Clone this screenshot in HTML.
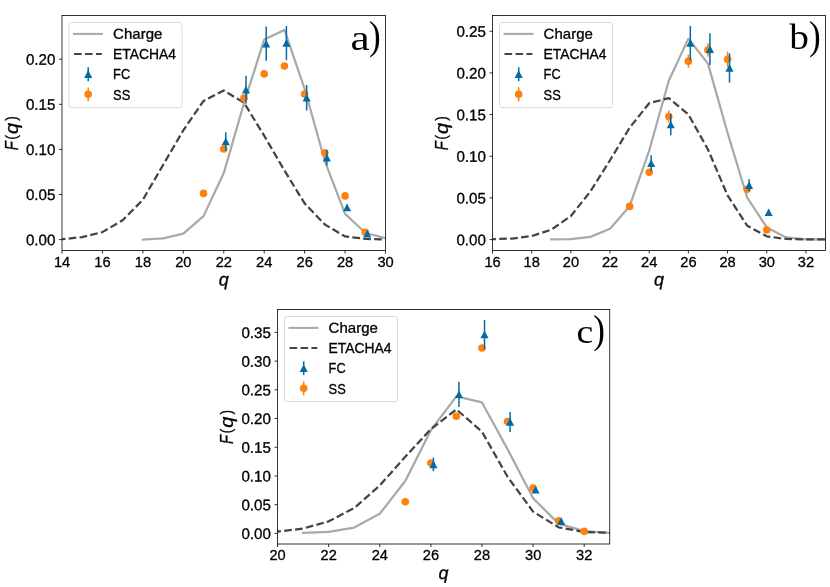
<!DOCTYPE html>
<html lang="en"><head><meta charset="utf-8"><title>Charge state distributions</title>
<style>
html,body{margin:0;padding:0;background:#fff;}
body{width:830px;height:587px;overflow:hidden;font-family:"Liberation Sans",sans-serif;}
svg{display:block;will-change:transform;}
svg .t{stroke:#000;stroke-width:0.3px;}
</style></head><body>
<svg width="830" height="587" viewBox="0 0 830 587" font-family="'Liberation Sans', sans-serif">
<rect x="0" y="0" width="830" height="587" fill="#fff"/>
<g id="panel-a">
<clipPath id="clipa"><rect x="62.0" y="15.5" width="323.50" height="235.00"/></clipPath>
<g clip-path="url(#clipa)">
<polyline points="142.88,239.50 163.09,238.33 183.31,233.54 203.53,216.13 223.75,173.08 243.97,103.22 264.19,39.60 284.41,29.94 304.62,88.78 324.84,161.07 345.06,213.87 365.28,232.73 385.50,238.24" fill="none" stroke="#A9A9A9" stroke-width="2.25" stroke-linejoin="round" stroke-linecap="square"/>
<polyline points="62.00,239.23 82.22,237.06 102.44,232.10 122.66,220.19 142.88,199.79 163.09,164.95 183.31,130.30 203.53,100.97 223.75,90.50 243.97,102.68 264.19,135.71 284.41,170.46 304.62,203.40 324.84,224.52 345.06,236.43 365.28,238.87 385.50,239.50" fill="none" stroke="#444444" stroke-width="2.25" stroke-dasharray="7.64 3.3" stroke-dashoffset="4.2" stroke-linejoin="round"/>
<line x1="203.53" x2="203.53" y1="191.58" y2="195.19" stroke="#FF800E" stroke-width="1.5"/>
<line x1="223.75" x2="223.75" y1="146.27" y2="151.69" stroke="#FF800E" stroke-width="1.5"/>
<line x1="243.97" x2="243.97" y1="95.46" y2="100.88" stroke="#FF800E" stroke-width="1.5"/>
<line x1="264.19" x2="264.19" y1="71.18" y2="76.60" stroke="#FF800E" stroke-width="1.5"/>
<line x1="284.41" x2="284.41" y1="63.33" y2="68.75" stroke="#FF800E" stroke-width="1.5"/>
<line x1="304.62" x2="304.62" y1="91.40" y2="96.81" stroke="#FF800E" stroke-width="1.5"/>
<line x1="324.84" x2="324.84" y1="149.97" y2="155.39" stroke="#FF800E" stroke-width="1.5"/>
<line x1="345.06" x2="345.06" y1="194.10" y2="197.71" stroke="#FF800E" stroke-width="1.5"/>
<line x1="365.28" x2="365.28" y1="231.47" y2="233.27" stroke="#FF800E" stroke-width="1.5"/>
<circle cx="203.53" cy="193.38" r="3.80" fill="#FF800E"/>
<circle cx="223.75" cy="148.98" r="3.80" fill="#FF800E"/>
<circle cx="243.97" cy="98.17" r="3.80" fill="#FF800E"/>
<circle cx="264.19" cy="73.89" r="3.80" fill="#FF800E"/>
<circle cx="284.41" cy="66.04" r="3.80" fill="#FF800E"/>
<circle cx="304.62" cy="94.11" r="3.80" fill="#FF800E"/>
<circle cx="324.84" cy="152.68" r="3.80" fill="#FF800E"/>
<circle cx="345.06" cy="195.91" r="3.80" fill="#FF800E"/>
<circle cx="365.28" cy="232.37" r="3.80" fill="#FF800E"/>
<line x1="225.77" x2="225.77" y1="132.19" y2="150.78" stroke="#006BA4" stroke-width="1.5"/>
<line x1="245.99" x2="245.99" y1="75.70" y2="103.67" stroke="#006BA4" stroke-width="1.5"/>
<line x1="266.21" x2="266.21" y1="26.51" y2="60.80" stroke="#006BA4" stroke-width="1.5"/>
<line x1="286.43" x2="286.43" y1="25.88" y2="60.17" stroke="#006BA4" stroke-width="1.5"/>
<line x1="306.65" x2="306.65" y1="85.08" y2="110.53" stroke="#006BA4" stroke-width="1.5"/>
<line x1="326.87" x2="326.87" y1="150.06" y2="165.59" stroke="#006BA4" stroke-width="1.5"/>
<line x1="347.08" x2="347.08" y1="204.75" y2="210.17" stroke="#006BA4" stroke-width="1.5"/>
<line x1="367.30" x2="367.30" y1="231.92" y2="235.53" stroke="#006BA4" stroke-width="1.5"/>
<path d="M225.77 137.54 L229.82 145.24 L221.72 145.24 Z" fill="#006BA4"/>
<path d="M245.99 85.73 L250.04 93.44 L241.94 93.44 Z" fill="#006BA4"/>
<path d="M266.21 39.71 L270.26 47.41 L262.16 47.41 Z" fill="#006BA4"/>
<path d="M286.43 39.08 L290.48 46.78 L282.38 46.78 Z" fill="#006BA4"/>
<path d="M306.65 93.86 L310.70 101.56 L302.60 101.56 Z" fill="#006BA4"/>
<path d="M326.87 153.87 L330.92 161.57 L322.82 161.57 Z" fill="#006BA4"/>
<path d="M347.08 203.51 L351.13 211.21 L343.03 211.21 Z" fill="#006BA4"/>
<path d="M367.30 229.77 L371.35 237.47 L363.25 237.47 Z" fill="#006BA4"/>
</g>
<line x1="62.00" x2="62.00" y1="250.5" y2="253.5" stroke="#000" stroke-width="0.8"/>
<text class="t" transform="matrix(1 0.0005 0 1 62.05 266.55)" font-size="15.3" text-anchor="middle" textLength="16.3" lengthAdjust="spacingAndGlyphs">14</text>
<line x1="102.44" x2="102.44" y1="250.5" y2="253.5" stroke="#000" stroke-width="0.8"/>
<text class="t" transform="matrix(1 0.0005 0 1 102.49 266.55)" font-size="15.3" text-anchor="middle" textLength="16.3" lengthAdjust="spacingAndGlyphs">16</text>
<line x1="142.88" x2="142.88" y1="250.5" y2="253.5" stroke="#000" stroke-width="0.8"/>
<text class="t" transform="matrix(1 0.0005 0 1 142.93 266.55)" font-size="15.3" text-anchor="middle" textLength="16.3" lengthAdjust="spacingAndGlyphs">18</text>
<line x1="183.31" x2="183.31" y1="250.5" y2="253.5" stroke="#000" stroke-width="0.8"/>
<text class="t" transform="matrix(1 0.0005 0 1 183.36 266.55)" font-size="15.3" text-anchor="middle" textLength="16.3" lengthAdjust="spacingAndGlyphs">20</text>
<line x1="223.75" x2="223.75" y1="250.5" y2="253.5" stroke="#000" stroke-width="0.8"/>
<text class="t" transform="matrix(1 0.0005 0 1 223.80 266.55)" font-size="15.3" text-anchor="middle" textLength="16.3" lengthAdjust="spacingAndGlyphs">22</text>
<line x1="264.19" x2="264.19" y1="250.5" y2="253.5" stroke="#000" stroke-width="0.8"/>
<text class="t" transform="matrix(1 0.0005 0 1 264.24 266.55)" font-size="15.3" text-anchor="middle" textLength="16.3" lengthAdjust="spacingAndGlyphs">24</text>
<line x1="304.62" x2="304.62" y1="250.5" y2="253.5" stroke="#000" stroke-width="0.8"/>
<text class="t" transform="matrix(1 0.0005 0 1 304.68 266.55)" font-size="15.3" text-anchor="middle" textLength="16.3" lengthAdjust="spacingAndGlyphs">26</text>
<line x1="345.06" x2="345.06" y1="250.5" y2="253.5" stroke="#000" stroke-width="0.8"/>
<text class="t" transform="matrix(1 0.0005 0 1 345.11 266.55)" font-size="15.3" text-anchor="middle" textLength="16.3" lengthAdjust="spacingAndGlyphs">28</text>
<line x1="385.50" x2="385.50" y1="250.5" y2="253.5" stroke="#000" stroke-width="0.8"/>
<text class="t" transform="matrix(1 0.0005 0 1 385.55 266.55)" font-size="15.3" text-anchor="middle" textLength="16.3" lengthAdjust="spacingAndGlyphs">30</text>
<line x1="59.0" x2="62.0" y1="239.60" y2="239.60" stroke="#000" stroke-width="0.8"/>
<text class="t" transform="matrix(1 0.0005 0 1 55.40 245.15)" font-size="15.3" text-anchor="end" textLength="29.5" lengthAdjust="spacingAndGlyphs">0.00</text>
<line x1="59.0" x2="62.0" y1="194.51" y2="194.51" stroke="#000" stroke-width="0.8"/>
<text class="t" transform="matrix(1 0.0005 0 1 55.40 200.06)" font-size="15.3" text-anchor="end" textLength="29.5" lengthAdjust="spacingAndGlyphs">0.05</text>
<line x1="59.0" x2="62.0" y1="149.41" y2="149.41" stroke="#000" stroke-width="0.8"/>
<text class="t" transform="matrix(1 0.0005 0 1 55.40 154.97)" font-size="15.3" text-anchor="end" textLength="29.5" lengthAdjust="spacingAndGlyphs">0.10</text>
<line x1="59.0" x2="62.0" y1="104.32" y2="104.32" stroke="#000" stroke-width="0.8"/>
<text class="t" transform="matrix(1 0.0005 0 1 55.40 109.87)" font-size="15.3" text-anchor="end" textLength="29.5" lengthAdjust="spacingAndGlyphs">0.15</text>
<line x1="59.0" x2="62.0" y1="59.23" y2="59.23" stroke="#000" stroke-width="0.8"/>
<text class="t" transform="matrix(1 0.0005 0 1 55.40 64.78)" font-size="15.3" text-anchor="end" textLength="29.5" lengthAdjust="spacingAndGlyphs">0.20</text>
<rect x="62.0" y="15.5" width="323.50" height="235.00" fill="none" stroke="#000" stroke-width="0.8"/>
<text class="t" transform="matrix(1 0.0005 0 1 223.75 285.40)" font-size="18.0" text-anchor="middle" font-style="italic">q</text>
<g transform="translate(17.60,149.97) rotate(-90)" font-size="100" stroke="#000" stroke-width="1.6">
<text transform="matrix(0.1472 0 0 0.1797 -0.19 0.00)" font-style="italic">F</text>
<text transform="matrix(0.1434 0 0 0.1717 10.19 -0.70)" font-style="normal">(</text>
<text transform="matrix(0.1981 0 0 0.1767 16.06 0.24)" font-style="italic">q</text>
<text transform="matrix(0.1385 0 0 0.1717 29.11 -0.70)" font-style="normal">)</text>
</g>
<rect x="69.00" y="22.50" width="113.05" height="85.15" rx="2.4" ry="2.4" fill="#fff" fill-opacity="0.8" stroke="#cccccc" stroke-opacity="0.8" stroke-width="0.9"/>
<line x1="74.05" x2="101.85" y1="33.90" y2="33.90" stroke="#A9A9A9" stroke-width="2.06" stroke-linecap="square"/>
<line x1="74.05" x2="101.85" y1="54.05" y2="54.05" stroke="#444444" stroke-width="2.06" stroke-dasharray="7.64 3.3"/>
<line x1="88.20" x2="88.20" y1="67.25" y2="81.15" stroke="#006BA4" stroke-width="1.5"/>
<path d="M88.20 70.25 L92.25 77.95 L84.15 77.95 Z" fill="#006BA4"/>
<line x1="88.20" x2="88.20" y1="87.40" y2="101.30" stroke="#FF800E" stroke-width="1.5"/>
<circle cx="88.20" cy="94.35" r="3.80" fill="#FF800E"/>
<text class="t" transform="matrix(1 0.0005 0 1 113.10 38.75)" font-size="14.5" text-anchor="start" textLength="49.3" lengthAdjust="spacingAndGlyphs">Charge</text>
<text class="t" transform="matrix(1 0.0005 0 1 113.10 58.95)" font-size="14.5" text-anchor="start" textLength="63.0" lengthAdjust="spacingAndGlyphs">ETACHA4</text>
<text class="t" transform="matrix(1 0.0005 0 1 113.10 79.25)" font-size="14.5" text-anchor="start" textLength="17.0" lengthAdjust="spacingAndGlyphs">FC</text>
<text class="t" transform="matrix(1 0.0005 0 1 113.10 99.60)" font-size="14.5" text-anchor="start" textLength="17.2" lengthAdjust="spacingAndGlyphs">SS</text>
<text transform="matrix(0.4316 0 0 0.3642 350.49 49.54)" font-family="'Liberation Serif', serif" font-size="100">a</text>
<text transform="matrix(0.3519 0 0 0.3922 368.89 49.46)" font-family="'Liberation Serif', serif" font-size="100">)</text>
</g>
<g id="panel-b">
<clipPath id="clipb"><rect x="492.5" y="15.5" width="333.00" height="235.00"/></clipPath>
<g clip-path="url(#clipb)">
<polyline points="551.26,239.40 570.85,239.15 590.44,236.90 610.03,228.74 629.62,206.16 649.21,150.52 668.79,80.71 688.38,38.65 707.97,63.64 727.56,132.78 747.15,197.50 766.74,227.40 786.32,237.48 805.91,239.40 825.50,239.40" fill="none" stroke="#A9A9A9" stroke-width="2.25" stroke-linejoin="round" stroke-linecap="square"/>
<polyline points="492.50,239.15 512.09,238.57 531.68,236.07 551.26,229.74 570.85,215.99 590.44,191.42 610.03,160.26 629.62,127.78 649.21,103.20 668.79,98.12 688.38,114.45 707.97,149.44 727.56,195.42 747.15,225.66 766.74,236.32 786.32,238.98 805.91,239.40 825.50,239.40" fill="none" stroke="#444444" stroke-width="2.25" stroke-dasharray="7.64 3.3" stroke-dashoffset="4.2" stroke-linejoin="round"/>
<line x1="629.62" x2="629.62" y1="204.75" y2="208.08" stroke="#FF800E" stroke-width="1.5"/>
<line x1="649.21" x2="649.21" y1="168.93" y2="175.59" stroke="#FF800E" stroke-width="1.5"/>
<line x1="668.79" x2="668.79" y1="110.45" y2="122.61" stroke="#FF800E" stroke-width="1.5"/>
<line x1="688.38" x2="688.38" y1="54.56" y2="67.72" stroke="#FF800E" stroke-width="1.5"/>
<line x1="707.97" x2="707.97" y1="43.31" y2="56.64" stroke="#FF800E" stroke-width="1.5"/>
<line x1="727.56" x2="727.56" y1="51.56" y2="66.89" stroke="#FF800E" stroke-width="1.5"/>
<line x1="747.15" x2="747.15" y1="186.84" y2="191.84" stroke="#FF800E" stroke-width="1.5"/>
<line x1="766.74" x2="766.74" y1="229.15" y2="230.82" stroke="#FF800E" stroke-width="1.5"/>
<circle cx="629.62" cy="206.41" r="3.80" fill="#FF800E"/>
<circle cx="649.21" cy="172.26" r="3.80" fill="#FF800E"/>
<circle cx="668.79" cy="116.53" r="3.80" fill="#FF800E"/>
<circle cx="688.38" cy="61.14" r="3.80" fill="#FF800E"/>
<circle cx="707.97" cy="49.98" r="3.80" fill="#FF800E"/>
<circle cx="727.56" cy="59.22" r="3.80" fill="#FF800E"/>
<circle cx="747.15" cy="189.34" r="3.80" fill="#FF800E"/>
<circle cx="766.74" cy="229.99" r="3.80" fill="#FF800E"/>
<line x1="651.16" x2="651.16" y1="155.27" y2="171.09" stroke="#006BA4" stroke-width="1.5"/>
<line x1="670.75" x2="670.75" y1="114.03" y2="135.19" stroke="#006BA4" stroke-width="1.5"/>
<line x1="690.34" x2="690.34" y1="25.99" y2="60.14" stroke="#006BA4" stroke-width="1.5"/>
<line x1="709.93" x2="709.93" y1="33.32" y2="64.97" stroke="#006BA4" stroke-width="1.5"/>
<line x1="729.52" x2="729.52" y1="53.14" y2="82.80" stroke="#006BA4" stroke-width="1.5"/>
<line x1="749.11" x2="749.11" y1="179.17" y2="191.34" stroke="#006BA4" stroke-width="1.5"/>
<line x1="768.69" x2="768.69" y1="209.83" y2="214.83" stroke="#006BA4" stroke-width="1.5"/>
<path d="M651.16 159.23 L655.21 166.93 L647.11 166.93 Z" fill="#006BA4"/>
<path d="M670.75 120.66 L674.80 128.36 L666.70 128.36 Z" fill="#006BA4"/>
<path d="M690.34 39.11 L694.39 46.81 L686.29 46.81 Z" fill="#006BA4"/>
<path d="M709.93 45.19 L713.98 52.89 L705.88 52.89 Z" fill="#006BA4"/>
<path d="M729.52 64.02 L733.57 71.72 L725.47 71.72 Z" fill="#006BA4"/>
<path d="M749.11 181.31 L753.16 189.00 L745.06 189.00 Z" fill="#006BA4"/>
<path d="M768.69 208.38 L772.74 216.08 L764.64 216.08 Z" fill="#006BA4"/>
</g>
<line x1="492.50" x2="492.50" y1="250.5" y2="253.5" stroke="#000" stroke-width="0.8"/>
<text class="t" transform="matrix(1 0.0005 0 1 492.55 266.55)" font-size="15.3" text-anchor="middle" textLength="16.3" lengthAdjust="spacingAndGlyphs">16</text>
<line x1="531.68" x2="531.68" y1="250.5" y2="253.5" stroke="#000" stroke-width="0.8"/>
<text class="t" transform="matrix(1 0.0005 0 1 531.73 266.55)" font-size="15.3" text-anchor="middle" textLength="16.3" lengthAdjust="spacingAndGlyphs">18</text>
<line x1="570.85" x2="570.85" y1="250.5" y2="253.5" stroke="#000" stroke-width="0.8"/>
<text class="t" transform="matrix(1 0.0005 0 1 570.90 266.55)" font-size="15.3" text-anchor="middle" textLength="16.3" lengthAdjust="spacingAndGlyphs">20</text>
<line x1="610.03" x2="610.03" y1="250.5" y2="253.5" stroke="#000" stroke-width="0.8"/>
<text class="t" transform="matrix(1 0.0005 0 1 610.08 266.55)" font-size="15.3" text-anchor="middle" textLength="16.3" lengthAdjust="spacingAndGlyphs">22</text>
<line x1="649.21" x2="649.21" y1="250.5" y2="253.5" stroke="#000" stroke-width="0.8"/>
<text class="t" transform="matrix(1 0.0005 0 1 649.26 266.55)" font-size="15.3" text-anchor="middle" textLength="16.3" lengthAdjust="spacingAndGlyphs">24</text>
<line x1="688.38" x2="688.38" y1="250.5" y2="253.5" stroke="#000" stroke-width="0.8"/>
<text class="t" transform="matrix(1 0.0005 0 1 688.43 266.55)" font-size="15.3" text-anchor="middle" textLength="16.3" lengthAdjust="spacingAndGlyphs">26</text>
<line x1="727.56" x2="727.56" y1="250.5" y2="253.5" stroke="#000" stroke-width="0.8"/>
<text class="t" transform="matrix(1 0.0005 0 1 727.61 266.55)" font-size="15.3" text-anchor="middle" textLength="16.3" lengthAdjust="spacingAndGlyphs">28</text>
<line x1="766.74" x2="766.74" y1="250.5" y2="253.5" stroke="#000" stroke-width="0.8"/>
<text class="t" transform="matrix(1 0.0005 0 1 766.79 266.55)" font-size="15.3" text-anchor="middle" textLength="16.3" lengthAdjust="spacingAndGlyphs">30</text>
<line x1="805.91" x2="805.91" y1="250.5" y2="253.5" stroke="#000" stroke-width="0.8"/>
<text class="t" transform="matrix(1 0.0005 0 1 805.96 266.55)" font-size="15.3" text-anchor="middle" textLength="16.3" lengthAdjust="spacingAndGlyphs">32</text>
<line x1="489.5" x2="492.5" y1="239.60" y2="239.60" stroke="#000" stroke-width="0.8"/>
<text class="t" transform="matrix(1 0.0005 0 1 485.90 245.15)" font-size="15.3" text-anchor="end" textLength="29.5" lengthAdjust="spacingAndGlyphs">0.00</text>
<line x1="489.5" x2="492.5" y1="197.93" y2="197.93" stroke="#000" stroke-width="0.8"/>
<text class="t" transform="matrix(1 0.0005 0 1 485.90 203.48)" font-size="15.3" text-anchor="end" textLength="29.5" lengthAdjust="spacingAndGlyphs">0.05</text>
<line x1="489.5" x2="492.5" y1="156.26" y2="156.26" stroke="#000" stroke-width="0.8"/>
<text class="t" transform="matrix(1 0.0005 0 1 485.90 161.81)" font-size="15.3" text-anchor="end" textLength="29.5" lengthAdjust="spacingAndGlyphs">0.10</text>
<line x1="489.5" x2="492.5" y1="114.59" y2="114.59" stroke="#000" stroke-width="0.8"/>
<text class="t" transform="matrix(1 0.0005 0 1 485.90 120.14)" font-size="15.3" text-anchor="end" textLength="29.5" lengthAdjust="spacingAndGlyphs">0.15</text>
<line x1="489.5" x2="492.5" y1="72.92" y2="72.92" stroke="#000" stroke-width="0.8"/>
<text class="t" transform="matrix(1 0.0005 0 1 485.90 78.47)" font-size="15.3" text-anchor="end" textLength="29.5" lengthAdjust="spacingAndGlyphs">0.20</text>
<line x1="489.5" x2="492.5" y1="31.25" y2="31.25" stroke="#000" stroke-width="0.8"/>
<text class="t" transform="matrix(1 0.0005 0 1 485.90 36.80)" font-size="15.3" text-anchor="end" textLength="29.5" lengthAdjust="spacingAndGlyphs">0.25</text>
<rect x="492.5" y="15.5" width="333.00" height="235.00" fill="none" stroke="#000" stroke-width="0.8"/>
<text class="t" transform="matrix(1 0.0005 0 1 659.00 285.40)" font-size="18.0" text-anchor="middle" font-style="italic">q</text>
<g transform="translate(448.10,149.97) rotate(-90)" font-size="100" stroke="#000" stroke-width="1.6">
<text transform="matrix(0.1472 0 0 0.1797 -0.19 0.00)" font-style="italic">F</text>
<text transform="matrix(0.1434 0 0 0.1717 10.19 -0.70)" font-style="normal">(</text>
<text transform="matrix(0.1981 0 0 0.1767 16.06 0.24)" font-style="italic">q</text>
<text transform="matrix(0.1385 0 0 0.1717 29.11 -0.70)" font-style="normal">)</text>
</g>
<rect x="499.50" y="22.50" width="113.05" height="85.15" rx="2.4" ry="2.4" fill="#fff" fill-opacity="0.8" stroke="#cccccc" stroke-opacity="0.8" stroke-width="0.9"/>
<line x1="504.55" x2="532.35" y1="33.90" y2="33.90" stroke="#A9A9A9" stroke-width="2.06" stroke-linecap="square"/>
<line x1="504.55" x2="532.35" y1="54.05" y2="54.05" stroke="#444444" stroke-width="2.06" stroke-dasharray="7.64 3.3"/>
<line x1="518.70" x2="518.70" y1="67.25" y2="81.15" stroke="#006BA4" stroke-width="1.5"/>
<path d="M518.70 70.25 L522.75 77.95 L514.65 77.95 Z" fill="#006BA4"/>
<line x1="518.70" x2="518.70" y1="87.40" y2="101.30" stroke="#FF800E" stroke-width="1.5"/>
<circle cx="518.70" cy="94.35" r="3.80" fill="#FF800E"/>
<text class="t" transform="matrix(1 0.0005 0 1 543.60 38.75)" font-size="14.5" text-anchor="start" textLength="49.3" lengthAdjust="spacingAndGlyphs">Charge</text>
<text class="t" transform="matrix(1 0.0005 0 1 543.60 58.95)" font-size="14.5" text-anchor="start" textLength="63.0" lengthAdjust="spacingAndGlyphs">ETACHA4</text>
<text class="t" transform="matrix(1 0.0005 0 1 543.60 79.25)" font-size="14.5" text-anchor="start" textLength="17.0" lengthAdjust="spacingAndGlyphs">FC</text>
<text class="t" transform="matrix(1 0.0005 0 1 543.60 99.60)" font-size="14.5" text-anchor="start" textLength="17.2" lengthAdjust="spacingAndGlyphs">SS</text>
<text transform="matrix(0.3935 0 0 0.3557 789.20 49.34)" font-family="'Liberation Serif', serif" font-size="100">b</text>
<text transform="matrix(0.3519 0 0 0.3922 808.89 49.46)" font-family="'Liberation Serif', serif" font-size="100">)</text>
</g>
<g id="panel-c">
<clipPath id="clipc"><rect x="277.5" y="309.5" width="332.25" height="234.50"/></clipPath>
<g clip-path="url(#clipc)">
<polyline points="303.06,532.80 328.62,531.83 354.17,527.53 379.73,513.79 405.29,480.99 430.85,430.15 456.40,396.32 481.96,402.44 507.52,449.10 533.08,498.28 558.63,523.64 584.19,531.08 609.75,532.80" fill="none" stroke="#A9A9A9" stroke-width="2.25" stroke-linejoin="round" stroke-linecap="square"/>
<polyline points="277.50,531.65 303.06,528.56 328.62,521.35 354.17,508.07 379.73,485.51 405.29,456.77 430.85,429.12 456.40,409.43 481.96,431.64 507.52,476.75 533.08,511.62 558.63,527.30 584.19,531.94 609.75,532.69" fill="none" stroke="#444444" stroke-width="2.25" stroke-dasharray="7.64 3.3" stroke-dashoffset="4.2" stroke-linejoin="round"/>
<line x1="405.29" x2="405.29" y1="500.57" y2="502.86" stroke="#FF800E" stroke-width="1.5"/>
<line x1="430.85" x2="430.85" y1="461.24" y2="464.67" stroke="#FF800E" stroke-width="1.5"/>
<line x1="456.40" x2="456.40" y1="414.52" y2="417.96" stroke="#FF800E" stroke-width="1.5"/>
<line x1="481.96" x2="481.96" y1="346.22" y2="349.66" stroke="#FF800E" stroke-width="1.5"/>
<line x1="507.52" x2="507.52" y1="419.90" y2="423.34" stroke="#FF800E" stroke-width="1.5"/>
<line x1="533.08" x2="533.08" y1="486.89" y2="489.18" stroke="#FF800E" stroke-width="1.5"/>
<line x1="558.63" x2="558.63" y1="520.20" y2="521.35" stroke="#FF800E" stroke-width="1.5"/>
<line x1="584.19" x2="584.19" y1="530.80" y2="531.94" stroke="#FF800E" stroke-width="1.5"/>
<circle cx="405.29" cy="501.71" r="3.80" fill="#FF800E"/>
<circle cx="430.85" cy="462.95" r="3.80" fill="#FF800E"/>
<circle cx="456.40" cy="416.24" r="3.80" fill="#FF800E"/>
<circle cx="481.96" cy="347.94" r="3.80" fill="#FF800E"/>
<circle cx="507.52" cy="421.62" r="3.80" fill="#FF800E"/>
<circle cx="533.08" cy="488.03" r="3.80" fill="#FF800E"/>
<circle cx="558.63" cy="520.78" r="3.80" fill="#FF800E"/>
<circle cx="584.19" cy="531.37" r="3.80" fill="#FF800E"/>
<line x1="433.40" x2="433.40" y1="457.57" y2="471.31" stroke="#006BA4" stroke-width="1.5"/>
<line x1="458.96" x2="458.96" y1="381.66" y2="407.08" stroke="#006BA4" stroke-width="1.5"/>
<line x1="484.52" x2="484.52" y1="319.89" y2="349.20" stroke="#006BA4" stroke-width="1.5"/>
<line x1="510.08" x2="510.08" y1="411.89" y2="431.93" stroke="#006BA4" stroke-width="1.5"/>
<line x1="535.63" x2="535.63" y1="487.57" y2="492.15" stroke="#006BA4" stroke-width="1.5"/>
<line x1="561.19" x2="561.19" y1="520.09" y2="522.38" stroke="#006BA4" stroke-width="1.5"/>
<path d="M433.40 460.49 L437.45 468.19 L429.35 468.19 Z" fill="#006BA4"/>
<path d="M458.96 390.42 L463.01 398.12 L454.91 398.12 Z" fill="#006BA4"/>
<path d="M484.52 330.59 L488.57 338.29 L480.47 338.29 Z" fill="#006BA4"/>
<path d="M510.08 417.96 L514.12 425.66 L506.03 425.66 Z" fill="#006BA4"/>
<path d="M535.63 485.91 L539.68 493.61 L531.58 493.61 Z" fill="#006BA4"/>
<path d="M561.19 517.29 L565.24 524.99 L557.14 524.99 Z" fill="#006BA4"/>
</g>
<line x1="277.50" x2="277.50" y1="544.0" y2="547.0" stroke="#000" stroke-width="0.8"/>
<text class="t" transform="matrix(1 0.0005 0 1 277.55 560.05)" font-size="15.3" text-anchor="middle" textLength="16.3" lengthAdjust="spacingAndGlyphs">20</text>
<line x1="328.62" x2="328.62" y1="544.0" y2="547.0" stroke="#000" stroke-width="0.8"/>
<text class="t" transform="matrix(1 0.0005 0 1 328.67 560.05)" font-size="15.3" text-anchor="middle" textLength="16.3" lengthAdjust="spacingAndGlyphs">22</text>
<line x1="379.73" x2="379.73" y1="544.0" y2="547.0" stroke="#000" stroke-width="0.8"/>
<text class="t" transform="matrix(1 0.0005 0 1 379.78 560.05)" font-size="15.3" text-anchor="middle" textLength="16.3" lengthAdjust="spacingAndGlyphs">24</text>
<line x1="430.85" x2="430.85" y1="544.0" y2="547.0" stroke="#000" stroke-width="0.8"/>
<text class="t" transform="matrix(1 0.0005 0 1 430.90 560.05)" font-size="15.3" text-anchor="middle" textLength="16.3" lengthAdjust="spacingAndGlyphs">26</text>
<line x1="481.96" x2="481.96" y1="544.0" y2="547.0" stroke="#000" stroke-width="0.8"/>
<text class="t" transform="matrix(1 0.0005 0 1 482.01 560.05)" font-size="15.3" text-anchor="middle" textLength="16.3" lengthAdjust="spacingAndGlyphs">28</text>
<line x1="533.08" x2="533.08" y1="544.0" y2="547.0" stroke="#000" stroke-width="0.8"/>
<text class="t" transform="matrix(1 0.0005 0 1 533.13 560.05)" font-size="15.3" text-anchor="middle" textLength="16.3" lengthAdjust="spacingAndGlyphs">30</text>
<line x1="584.19" x2="584.19" y1="544.0" y2="547.0" stroke="#000" stroke-width="0.8"/>
<text class="t" transform="matrix(1 0.0005 0 1 584.24 560.05)" font-size="15.3" text-anchor="middle" textLength="16.3" lengthAdjust="spacingAndGlyphs">32</text>
<line x1="274.5" x2="277.5" y1="533.40" y2="533.40" stroke="#000" stroke-width="0.8"/>
<text class="t" transform="matrix(1 0.0005 0 1 270.90 538.95)" font-size="15.3" text-anchor="end" textLength="29.5" lengthAdjust="spacingAndGlyphs">0.00</text>
<line x1="274.5" x2="277.5" y1="504.69" y2="504.69" stroke="#000" stroke-width="0.8"/>
<text class="t" transform="matrix(1 0.0005 0 1 270.90 510.24)" font-size="15.3" text-anchor="end" textLength="29.5" lengthAdjust="spacingAndGlyphs">0.05</text>
<line x1="274.5" x2="277.5" y1="475.97" y2="475.97" stroke="#000" stroke-width="0.8"/>
<text class="t" transform="matrix(1 0.0005 0 1 270.90 481.52)" font-size="15.3" text-anchor="end" textLength="29.5" lengthAdjust="spacingAndGlyphs">0.10</text>
<line x1="274.5" x2="277.5" y1="447.25" y2="447.25" stroke="#000" stroke-width="0.8"/>
<text class="t" transform="matrix(1 0.0005 0 1 270.90 452.81)" font-size="15.3" text-anchor="end" textLength="29.5" lengthAdjust="spacingAndGlyphs">0.15</text>
<line x1="274.5" x2="277.5" y1="418.54" y2="418.54" stroke="#000" stroke-width="0.8"/>
<text class="t" transform="matrix(1 0.0005 0 1 270.90 424.09)" font-size="15.3" text-anchor="end" textLength="29.5" lengthAdjust="spacingAndGlyphs">0.20</text>
<line x1="274.5" x2="277.5" y1="389.82" y2="389.82" stroke="#000" stroke-width="0.8"/>
<text class="t" transform="matrix(1 0.0005 0 1 270.90 395.38)" font-size="15.3" text-anchor="end" textLength="29.5" lengthAdjust="spacingAndGlyphs">0.25</text>
<line x1="274.5" x2="277.5" y1="361.11" y2="361.11" stroke="#000" stroke-width="0.8"/>
<text class="t" transform="matrix(1 0.0005 0 1 270.90 366.66)" font-size="15.3" text-anchor="end" textLength="29.5" lengthAdjust="spacingAndGlyphs">0.30</text>
<line x1="274.5" x2="277.5" y1="332.39" y2="332.39" stroke="#000" stroke-width="0.8"/>
<text class="t" transform="matrix(1 0.0005 0 1 270.90 337.94)" font-size="15.3" text-anchor="end" textLength="29.5" lengthAdjust="spacingAndGlyphs">0.35</text>
<rect x="277.5" y="309.5" width="332.25" height="234.50" fill="none" stroke="#000" stroke-width="0.8"/>
<text class="t" transform="matrix(1 0.0005 0 1 443.62 578.90)" font-size="18.0" text-anchor="middle" font-style="italic">q</text>
<g transform="translate(233.10,443.72) rotate(-90)" font-size="100" stroke="#000" stroke-width="1.6">
<text transform="matrix(0.1472 0 0 0.1797 -0.19 0.00)" font-style="italic">F</text>
<text transform="matrix(0.1434 0 0 0.1717 10.19 -0.70)" font-style="normal">(</text>
<text transform="matrix(0.1981 0 0 0.1767 16.06 0.24)" font-style="italic">q</text>
<text transform="matrix(0.1385 0 0 0.1717 29.11 -0.70)" font-style="normal">)</text>
</g>
<rect x="284.50" y="316.50" width="113.05" height="85.15" rx="2.4" ry="2.4" fill="#fff" fill-opacity="0.8" stroke="#cccccc" stroke-opacity="0.8" stroke-width="0.9"/>
<line x1="289.55" x2="317.35" y1="327.90" y2="327.90" stroke="#A9A9A9" stroke-width="2.06" stroke-linecap="square"/>
<line x1="289.55" x2="317.35" y1="348.05" y2="348.05" stroke="#444444" stroke-width="2.06" stroke-dasharray="7.64 3.3"/>
<line x1="303.70" x2="303.70" y1="361.25" y2="375.15" stroke="#006BA4" stroke-width="1.5"/>
<path d="M303.70 364.25 L307.75 371.95 L299.65 371.95 Z" fill="#006BA4"/>
<line x1="303.70" x2="303.70" y1="381.40" y2="395.30" stroke="#FF800E" stroke-width="1.5"/>
<circle cx="303.70" cy="388.35" r="3.80" fill="#FF800E"/>
<text class="t" transform="matrix(1 0.0005 0 1 328.60 332.75)" font-size="14.5" text-anchor="start" textLength="49.3" lengthAdjust="spacingAndGlyphs">Charge</text>
<text class="t" transform="matrix(1 0.0005 0 1 328.60 352.95)" font-size="14.5" text-anchor="start" textLength="63.0" lengthAdjust="spacingAndGlyphs">ETACHA4</text>
<text class="t" transform="matrix(1 0.0005 0 1 328.60 373.25)" font-size="14.5" text-anchor="start" textLength="17.0" lengthAdjust="spacingAndGlyphs">FC</text>
<text class="t" transform="matrix(1 0.0005 0 1 328.60 393.60)" font-size="14.5" text-anchor="start" textLength="17.2" lengthAdjust="spacingAndGlyphs">SS</text>
<text transform="matrix(0.3760 0 0 0.3469 576.55 343.00)" font-family="'Liberation Serif', serif" font-size="100">c</text>
<text transform="matrix(0.3519 0 0 0.3922 593.14 343.46)" font-family="'Liberation Serif', serif" font-size="100">)</text>
</g>
</svg>
</body></html>
